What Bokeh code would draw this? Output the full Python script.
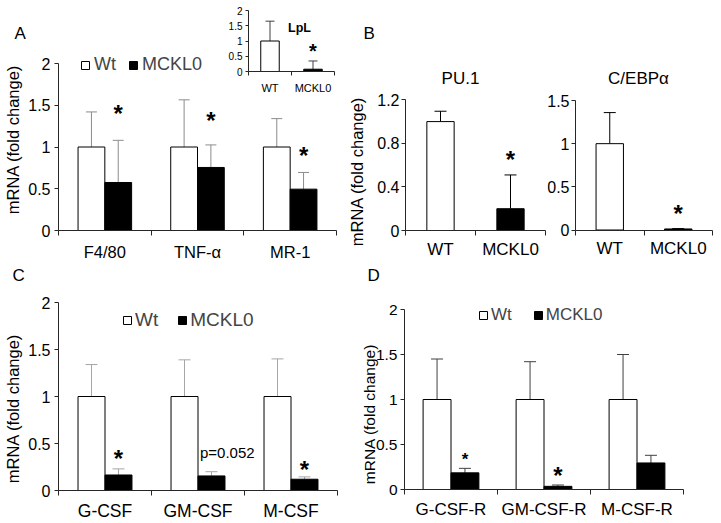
import math
from bokeh.plotting import figure
from bokeh.models import (Range1d, FixedTicker, Whisker, TeeHead, ColumnDataSource,
                          Label, Legend, LegendItem, LinearAxis)
from bokeh.core.properties import value
from bokeh.layouts import row, column
from bokeh.embed import file_html
from bokeh.resources import INLINE

FONT = "Liberation Sans"

# ---------------- data ----------------
A_cats = ["F4/80", "TNF-α", "MR-1"]
A_wt = [1.0, 1.0, 1.0]
A_wt_err = [0.42, 0.565, 0.34]
A_mck = [0.575, 0.755, 0.495]
A_mck_err = [0.505, 0.27, 0.2]
A_star_y = [1.47, 1.385, 0.96]
A_yticks = [0, 0.5, 1, 1.5, 2]

L_cats = ["WT", "MCKL0"]
L_vals = [1.0, 0.075]
L_err = [0.65, 0.27]
L_star_y = 0.81
L_yticks = [0, 0.5, 1, 1.5, 2]

P_cats = ["WT", "MCKL0"]
P_vals = [1.0, 0.2]
P_err = [0.095, 0.31]
P_star_y = 0.706
P_yticks = [0, 0.4, 0.8, 1.2]

E_cats = ["WT", "MCKL0"]
E_vals = [1.0, 0.012]
E_err = [0.36, 0.004]
E_star_y = 0.26
E_yticks = [0, 0.5, 1, 1.5]

C_cats = ["G-CSF", "GM-CSF", "M-CSF"]
C_wt = [1.0, 1.0, 1.0]
C_wt_err = [0.34, 0.39, 0.40]
C_mck = [0.165, 0.155, 0.12]
C_mck_err = [0.065, 0.045, 0.025]
C_marks = ["*", "p=0.052", "*"]
C_mark_y = [0.404, 0.404, 0.277]
C_yticks = [0, 0.5, 1, 1.5, 2]

D_cats = ["G-CSF-R", "GM-CSF-R", "M-CSF-R"]
D_wt = [1.0, 1.0, 1.0]
D_wt_err = [0.45, 0.42, 0.5]
D_mck = [0.185, 0.035, 0.295]
D_mck_err = [0.05, 0.015, 0.085]
D_marks = ["*", "*", ""]
D_mark_y = [0.378, 0.222, 0.0]
D_yticks = [0, 0.5, 1, 1.5, 2]

AXIS = "#262626"


def span(x0, w, px, d):
    s = (px[1] - px[0]) / (d[1] - d[0])
    return d[0] - (px[0] - x0) / s, d[1] + (x0 + w - px[1]) / s, s


def make_fig(x0, y0, w, h, xpx, ypx, xd, yd):
    xs, xe, sx = span(x0, w, xpx, xd)
    sy = (ypx[0] - ypx[1]) / (yd[1] - yd[0])
    ys = yd[0] - (y0 + h - ypx[0]) / sy
    ye = yd[1] + (ypx[1] - y0) / sy
    p = figure(width=w, height=h, x_range=Range1d(xs, xe), y_range=Range1d(ys, ye),
               output_backend="svg", toolbar_location=None, title=None,
               x_axis_location=None, y_axis_location=None,
               min_border=0, min_border_left=0, min_border_right=0,
               min_border_top=0, min_border_bottom=0, outline_line_color=None)
    p.grid.visible = False
    geo = dict(x0=x0, y0=y0, w=w, h=h, sx=sx, sy=sy)
    return p, geo


def extra_ranges(p, geo, name, xpx, ypx, xd, yd):
    xs, xe, sx = span(geo["x0"], geo["w"], xpx, xd)
    sy = (ypx[0] - ypx[1]) / (yd[1] - yd[0])
    ys = yd[0] - (geo["y0"] + geo["h"] - ypx[0]) / sy
    ye = yd[1] + (ypx[1] - geo["y0"]) / sy
    p.extra_x_ranges[name] = Range1d(xs, xe)
    p.extra_y_ranges[name] = Range1d(ys, ye)
    return sy


def add_axes(p, cats, yticks, xfs, yfs, xstand, ystand, ytick=4, xtick=5, rn="default"):
    n = len(cats)
    centers = [i + 0.5 for i in range(n)]
    xa = LinearAxis(fixed_location=0, bounds=(0, n), x_range_name=rn, y_range_name=rn,
                    ticker=FixedTicker(ticks=centers, minor_ticks=list(range(n + 1))),
                    major_label_overrides={c: lab for c, lab in zip(centers, cats)},
                    major_tick_out=0, major_tick_in=0, minor_tick_out=xtick, minor_tick_in=0,
                    minor_tick_line_color=AXIS, axis_line_color=AXIS,
                    major_label_text_font=FONT, major_label_text_font_size=xfs,
                    major_label_text_color="black", major_label_standoff=xstand)
    p.add_layout(xa, "below")
    ya = LinearAxis(fixed_location=0, bounds=(0, max(yticks)), x_range_name=rn, y_range_name=rn,
                    ticker=FixedTicker(ticks=yticks, minor_ticks=[]),
                    major_label_overrides={t: f"{t:g}" for t in yticks},
                    major_tick_out=ytick, major_tick_in=0, minor_tick_out=0, minor_tick_in=0,
                    major_tick_line_color=AXIS, axis_line_color=AXIS,
                    major_label_text_font=FONT, major_label_text_font_size=yfs,
                    major_label_text_color="black", major_label_standoff=ystand)
    p.add_layout(ya, "left")


def bars(p, xs, tops, width, color, rn="default"):
    src = ColumnDataSource(dict(x=xs, top=tops))
    return p.vbar(x="x", top="top", bottom=0, width=width, source=src,
                  fill_color=color, line_color="black", line_width=1,
                  x_range_name=rn, y_range_name=rn)


def errbars(p, xs, vals, errs, color, head=11, rn="default"):
    src = ColumnDataSource(dict(x=xs, lo=vals, hi=[v + e for v, e in zip(vals, errs)]))
    w = Whisker(source=src, base="x", lower="lo", upper="hi", dimension="height",
                line_color=color, line_width=1,
                upper_head=TeeHead(size=head, line_color=color, line_width=1),
                lower_head=None, x_range_name=rn, y_range_name=rn)
    p.add_layout(w)


def dlabel(p, x, y, text, size, rn="default", **kw):
    p.add_layout(Label(x=x, y=y, text=text, text_font=FONT, text_font_size=size,
                       text_color="black", x_range_name=rn, y_range_name=rn, **kw))


def slabel(p, geo, rx, ry, text, size, **kw):
    p.add_layout(Label(x=rx - geo["x0"], y=geo["y0"] + geo["h"] - ry,
                       x_units="screen", y_units="screen", text=text,
                       text_font=FONT, text_font_size=size, text_color="black", **kw))


def star(p, x, y, size, ppu, rn="default"):
    dlabel(p, x, y - 0.23 * size / ppu, "*", f"{size}px", rn=rn, text_align="center",
           text_baseline="middle", text_font_style="bold")


def ytitle(p, geo, rx, ry, size):
    slabel(p, geo, rx, ry, "mRNA (fold change)", size, angle=math.pi / 2,
           text_align="center", text_baseline="middle")


def letter(p, geo, rx, ry, text):
    slabel(p, geo, rx, ry, text, "17px", text_align="left", text_baseline="alphabetic")


def legend(p, geo, rs, rx, ry_center, fs, spacing, standoff, row_h):
    lg = Legend(items=[LegendItem(label=value("Wt"), renderers=[rs[0]]),
                       LegendItem(label=value("MCKL0"), renderers=[rs[1]])],
                orientation="horizontal",
                location=(rx - geo["x0"], geo["y0"] + geo["h"] - ry_center - row_h / 2),
                padding=0, margin=0, spacing=spacing, label_standoff=standoff,
                glyph_width=10, glyph_height=10, label_text_font=FONT,
                label_text_font_size=fs, label_height=12,
                border_line_color=None, background_fill_alpha=0)
    p.add_layout(lg)


# ---------------- Panel A (with LpL inset) ----------------
pA, gA = make_fig(0, 0, 344, 260, (58, 336), (230, 63), (0, 3), (0, 2))
add_axes(pA, A_cats, A_yticks, "16.5px", "16px", 7, 4)
bwA = 0.289
xa_wt = [i + 0.5 - bwA / 2 for i in range(len(A_cats))]
xa_mk = [i + 0.5 + bwA / 2 for i in range(len(A_cats))]
rA1 = bars(pA, xa_wt, A_wt, bwA, "white")
rA2 = bars(pA, xa_mk, A_mck, bwA, "black")
errbars(pA, xa_wt, A_wt, A_wt_err, "#8c8c8c")
errbars(pA, xa_mk, A_mck, A_mck_err, "#8c8c8c")
for x, y in zip(xa_mk, A_star_y):
    star(pA, x, y, 24, gA["sy"])
legend(pA, gA, [rA1, rA2], 80, 65, "18px", 12, 4, 20.5)
ytitle(pA, gA, 12, 139, "16.5px")
letter(pA, gA, 14, 33.3, "A")

syL = extra_ranges(pA, gA, "ins", (248, 334), (71, 10), (0, 2), (0, 2))
add_axes(pA, L_cats, L_yticks, "11px", "10px", 6, 3, ytick=3, xtick=4, rn="ins")
bwL = 0.43
xl = [i + 0.5 for i in range(len(L_cats))]
bars(pA, [xl[0]], [L_vals[0]], bwL, "white", rn="ins")
bars(pA, [xl[1]], [L_vals[1]], bwL, "black", rn="ins")
errbars(pA, xl, L_vals, L_err, "#404040", head=9, rn="ins")
star(pA, xl[1], L_star_y, 20, syL, rn="ins")
slabel(pA, gA, 299, 27.3, "LpL", "12.5px", text_align="center",
       text_baseline="alphabetic", text_font_style="bold")

# ---------------- Panel B : PU.1 ----------------
pB1, gB1 = make_fig(344, 0, 203, 260, (405, 545), (230, 99.3), (0, 2), (0, 1.2))
add_axes(pB1, P_cats, P_yticks, "17px", "16px", 4, 2)
bwB = 0.39
xp = [i + 0.5 for i in range(len(P_cats))]
bars(pB1, [xp[0]], [P_vals[0]], bwB, "white")
bars(pB1, [xp[1]], [P_vals[1]], bwB, "black")
errbars(pB1, xp, P_vals, P_err, "black", head=12)
star(pB1, xp[1], P_star_y, 24, gB1["sy"])
slabel(pB1, gB1, 460, 78.3, "PU.1", "17px", text_align="center", text_baseline="alphabetic")
letter(pB1, gB1, 363, 33.3, "B")
ytitle(pB1, gB1, 356, 171, "16.5px")

# ---------------- Panel B : C/EBPα ----------------
pB2, gB2 = make_fig(547, 0, 173, 260, (575, 712), (229.5, 100), (0, 2), (0, 1.5))
add_axes(pB2, E_cats, E_yticks, "17px", "16px", 4, 2)
xe = [i + 0.5 for i in range(len(E_cats))]
bars(pB2, [xe[0]], [E_vals[0]], 0.40, "white")
bars(pB2, [xe[1]], [E_vals[1]], 0.40, "black")
errbars(pB2, xe, E_vals, E_err, "black", head=12)
star(pB2, xe[1], E_star_y, 24, gB2["sy"])
slabel(pB2, gB2, 638, 78.3, "C/EBPα", "17px", text_align="center", text_baseline="alphabetic")

# ---------------- Panel C ----------------
pC, gC = make_fig(0, 260, 360, 262, (58, 337), (490, 302), (0, 3), (0, 2))
add_axes(pC, C_cats, C_yticks, "17.5px", "16px", 5, 4)
bwC = 0.29
xc_wt = [i + 0.5 - bwC / 2 for i in range(len(C_cats))]
xc_mk = [i + 0.5 + bwC / 2 for i in range(len(C_cats))]
rC1 = bars(pC, xc_wt, C_wt, bwC, "white")
rC2 = bars(pC, xc_mk, C_mck, bwC, "black")
errbars(pC, xc_wt, C_wt, C_wt_err, "#a6a6a6", head=12)
errbars(pC, xc_mk, C_mck, C_mck_err, "#a6a6a6", head=12)
for x, y, m in zip(xc_mk, C_mark_y, C_marks):
    if m == "*":
        star(pC, x, y, 24, gC["sy"])
    else:
        dlabel(pC, x + 0.17, y, m, "15px", text_align="center", text_baseline="middle")
legend(pC, gC, [rC1, rC2], 122, 320, "19px", 19, 3, 21.5)
ytitle(pC, gC, 12, 408, "16.5px")
letter(pC, gC, 12, 275, "C")

# ---------------- Panel D ----------------
pD, gD = make_fig(360, 260, 360, 262, (404, 683), (489, 309), (0, 3), (0, 2))
add_axes(pD, D_cats, D_yticks, "17px", "15.5px", 5, 3)
bwD = 0.30
xd_wt = [i + 0.5 - bwD / 2 for i in range(len(D_cats))]
xd_mk = [i + 0.5 + bwD / 2 for i in range(len(D_cats))]
rD1 = bars(pD, xd_wt, D_wt, bwD, "white")
rD2 = bars(pD, xd_mk, D_mck, bwD, "black")
errbars(pD, xd_wt, D_wt, D_wt_err, "#404040", head=12)
errbars(pD, xd_mk, D_mck, D_mck_err, "#404040", head=12)
star_sizes = [17, 24, 24]
for x, y, m, s in zip(xd_mk, D_mark_y, D_marks, star_sizes):
    if m:
        star(pD, x, y, s, gD["sy"])
legend(pD, gD, [rD1, rD2], 478, 315, "17px", 21, 3, 19.5)
ytitle(pD, gD, 369, 413.5, "15.5px")
letter(pD, gD, 367, 275, "D")

layout = column(row(pA, pB1, pB2), row(pC, pD))

open("out.html", "w").write(file_html(layout, INLINE))
